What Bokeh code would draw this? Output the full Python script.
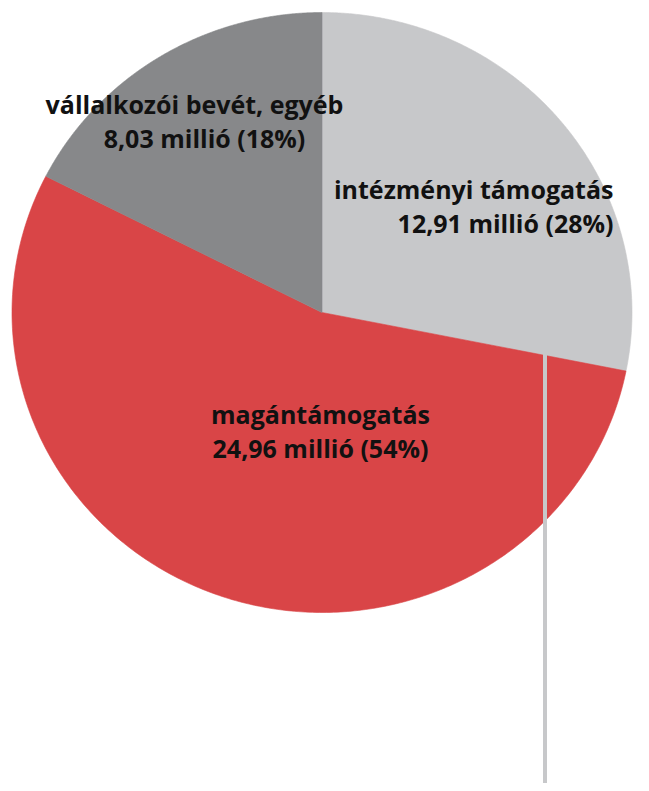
import numpy as np
from bokeh.plotting import figure
from bokeh.models import Range1d
from bokeh.embed import file_html
from bokeh.resources import INLINE
from bokeh.core.properties import value

# ---- data ----
categories = ["intézményi támogatás", "magántámogatás", "vállalkozói bevét, egyéb"]
amounts = [12.91, 24.96, 8.03]          # millió
percents = [28, 54, 18]
colors = ["#c7c8ca", "#d94547", "#87888a"]

# ---- layout (screen-like coordinates) ----
cx, cy = 321.5, 312.0
rx, ry = 310.0, 300.0
# label anchors: (x line1, x line2, y line1, y line2, align)
label_pos = [
    (613, 613, 188, 222, "right"),
    (320, 320, 413, 447, "center"),
    (194, 204, 103, 137, "center"),
]

p = figure(width=641, height=783,
           x_range=Range1d(0, 641), y_range=Range1d(783, 0),
           output_backend="svg", toolbar_location=None, min_border=0,
           x_axis_location=None, y_axis_location=None)
p.grid.visible = False
p.outline_line_color = None
p.background_fill_color = "white"
p.border_fill_color = "white"

total = sum(amounts)
edges = np.concatenate([[0.0], np.cumsum(amounts)]) / total * 2 * np.pi
xs, ys = [], []
for a0, a1 in zip(edges[:-1], edges[1:]):
    t = np.linspace(a0, a1, 300)
    xs.append([cx] + list(cx + rx * np.sin(t)))
    ys.append([cy] + list(cy - ry * np.cos(t)))
p.patches(xs, ys, fill_color=colors, line_color=colors, line_width=0.6)

# leader line from the first slice downwards
p.segment(x0=[544.5], y0=[cy], x1=[544.5], y1=[800], line_color=colors[0], line_width=4)

font = value("Open Sans")
for cat, amt, pct, (x1, x2, y1, y2, al) in zip(categories, amounts, percents, label_pos):
    line2 = f"{amt:.2f}".replace(".", ",") + f" millió ({pct}%)"
    p.text(x=[x1, x2], y=[y1, y2], text=[cat, line2], text_font=font,
           text_font_size="25px", text_font_style="bold", text_color="#111111",
           text_align=al, text_baseline="middle")

open("out.html", "w").write(file_html(p, INLINE))
